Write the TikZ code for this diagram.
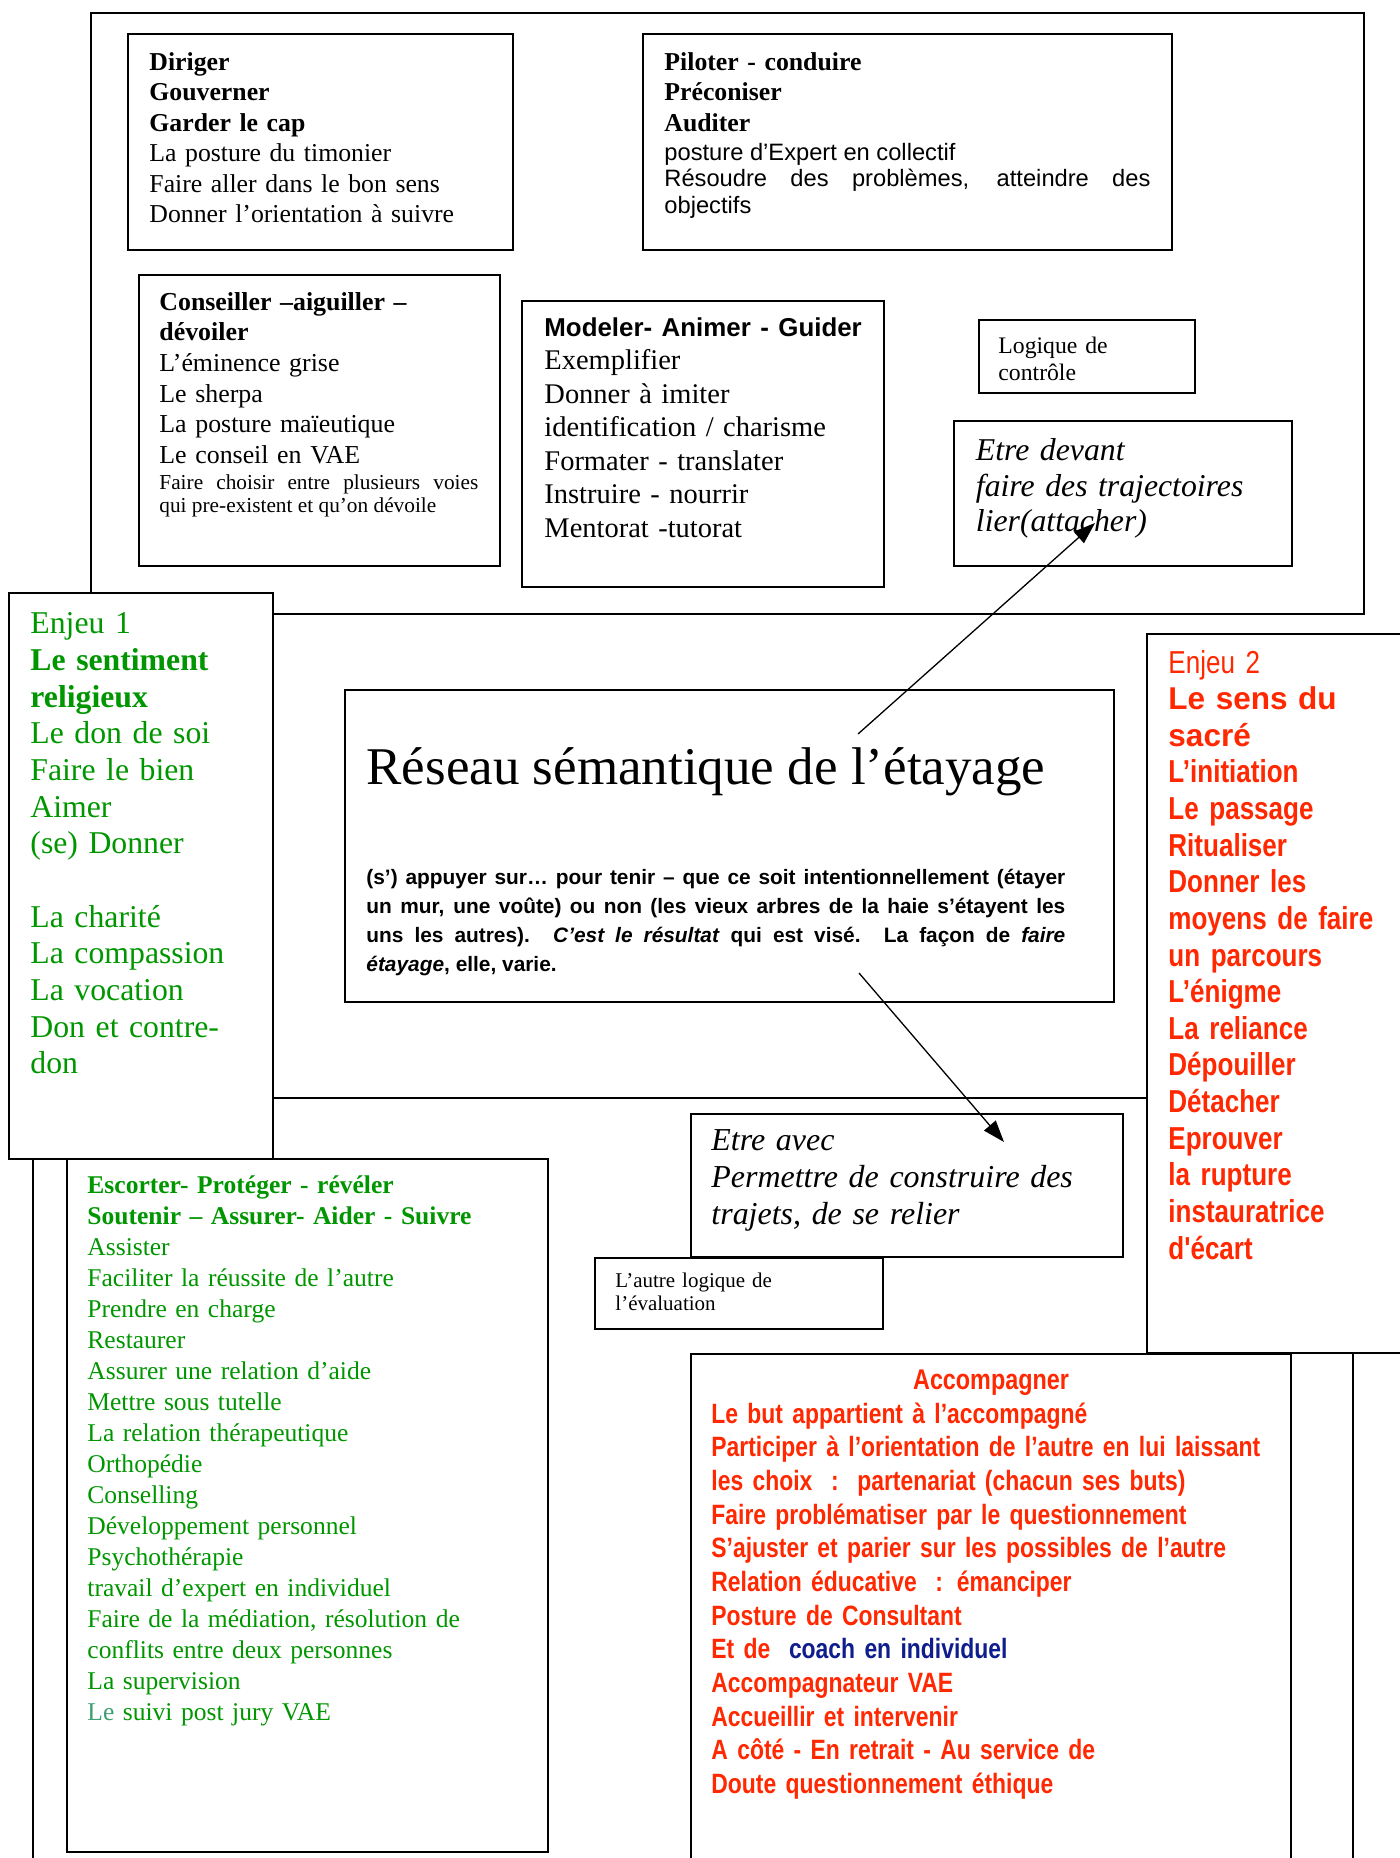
\documentclass[tikz,border=0pt]{standalone}
\usepackage{fontspec}
\setmainfont{Liberation Serif}
\newfontfamily\arialfont{Liberation Sans}
\newfontfamily\narrowfont[FakeStretch=0.82]{Liberation Sans}
\usepackage{xcolor}
\definecolor{enjeugreen}{HTML}{009600}
\definecolor{lightteal}{HTML}{3CA070}
\definecolor{sacredred}{HTML}{FF2800}
\definecolor{coachblue}{HTML}{0F1E8C}
\usetikzlibrary{arrows.meta}
\newcommand{\fsz}[2]{\fontsize{#1}{#2}\selectfont}
\hyphenpenalty=10000

\begin{document}
\begin{tikzpicture}[x=0.46pt, y=-0.46pt,
  frame/.style={draw, line width=0.7pt},
  panel/.style={draw, line width=0.7pt, fill=white},
  txt/.style={anchor=base west, inner sep=0pt, align=left},
  link/.style={-{Triangle[length=10pt, width=7pt]}, line width=0.6pt}
]
\useasboundingbox (0,0) rectangle (1400,1858);
\clip (0,0) rectangle (1400,1858);

% big frames
\draw[frame] (91,13) rectangle (1364,614);
\draw[frame] (33,1098) rectangle (1353,1890);

% top frame
\draw[panel] (128,34) rectangle (513,250);
\node[txt, text width=175pt, font=\fsz{11.85}{14}] (diriger) at (149,70.4)
  {\textbf{Diriger}\\\textbf{Gouverner}\\\textbf{Garder le cap}\\La posture du timonier\\Faire aller dans le bon sens\\Donner l’orientation à suivre};

\draw[panel] (643,34) rectangle (1172,250);
\node[txt, text width=200pt, font=\bfseries\fsz{11.85}{14}] (piloter) at (664,70.4)
  {Piloter - conduire\\Préconiser\\Auditer};
\node[txt, text width=223.6pt, align=justify, font=\arialfont\fsz{10.9}{12.19}] (expert) at (664,160)
  {posture d’Expert en collectif\\Résoudre des problèmes, atteindre des\linebreak objectifs};

\draw[panel] (139,275) rectangle (500,566);
\node[txt, text width=165pt, font=\fsz{11.9}{14.12}] (conseiller) at (159,310)
  {\textbf{Conseiller –aiguiller –}\\\textbf{dévoiler}\\L’éminence grise\\Le sherpa\\La posture maïeutique\\Le conseil en VAE};
\node[txt, text width=146.7pt, align=justify, font=\fsz{9.8}{10.8}] (voies) at (159,489.5)
  {Faire choisir entre plusieurs voies\linebreak qui pre-existent et qu’on dévoile};

\draw[panel] (522,301) rectangle (884,587);
\node[txt, text width=165pt, font=\fsz{13.1}{15.41}] (modeler) at (544,336)
  {{\arialfont\bfseries\fontsize{11.9}{15.41}\selectfont Modeler- Animer - Guider}\\Exemplifier\\Donner à imiter\\identification / charisme\\Formater - translater\\Instruire - nourrir\\Mentorat -tutorat};

\draw[panel] (979,320) rectangle (1195,393);
\node[txt, text width=90pt, font=\fsz{10.9}{12.6}] (controle) at (998,353)
  {Logique de\\contrôle};

\draw[panel] (954,421) rectangle (1292,566);
\node[txt, text width=150pt, font=\itshape\fsz{14.6}{16.38}] (devant) at (975.5,460.6)
  {Etre devant\\faire des trajectoires\\lier(attacher)};

% enjeu 1
\draw[panel] (9,593) rectangle (273,1159);
\node[txt, text width=120pt, text=enjeugreen, font=\fsz{14.6}{16.88}] (enjeu1) at (30,633.6)
  {Enjeu 1\\\textbf{Le sentiment}\\\textbf{religieux}\\Le don de soi\\Faire le bien\\Aimer\\(se) Donner\\\mbox{}\\La charité\\La compassion\\La vocation\\Don et contre-\\don};

% centre
\draw[panel] (345,690) rectangle (1114,1002);
\node[anchor=base west, inner sep=0pt, font=\fsz{24.4}{28}] (titre) at (366,784.7)
  {Réseau sémantique de l’étayage};
\node[txt, text width=321.5pt, align=justify, font=\arialfont\bfseries\fsz{9.6}{13.49}] (appui) at (366,884)
  {(s’) appuyer sur… pour tenir – que ce soit intentionnellement (étayer\linebreak
   un mur, une voûte) ou non (les vieux arbres de la haie s’étayent les\linebreak
   uns les autres). \textit{C’est le résultat} qui est visé. La façon de \textit{faire}\linebreak
   \textit{étayage}, elle, varie.};

% enjeu 2
\draw[panel] (1147,634) rectangle (1420,1353);
\node[txt, text width=115pt, text=sacredred, font=\narrowfont\bfseries\fsz{14.6}{16.85}] (enjeu2) at (1168,673)
  {{\mdseries Enjeu 2}\\{\arialfont\bfseries\fontsize{14.5}{16.85}\selectfont Le sens du\\sacré}\\L’initiation\\Le passage\\Ritualiser\\Donner les\\moyens de faire\\un parcours\\L’énigme\\La reliance\\Dépouiller\\Détacher\\Eprouver\\la rupture\\instauratrice\\d'écart};

% bottom frame
\draw[panel] (691,1114) rectangle (1123,1257);
\node[txt, text width=190pt, font=\itshape\fsz{14.7}{17.1}] (avec) at (711,1150)
  {Etre avec\\Permettre de construire des\\trajets, de se relier};

\draw[panel] (595,1258) rectangle (883,1329);
\node[txt, text width=100pt, font=\fsz{9.65}{10.7}] (evaluation) at (615,1287.7)
  {L’autre logique de\\l’évaluation};

\draw[panel] (67,1159) rectangle (548,1852);
\node[txt, text width=230pt, text=enjeugreen, font=\fsz{11.75}{14.24}] (escorter) at (87,1193.8)
  {\textbf{Escorter- Protéger - révéler}\\\textbf{Soutenir – Assurer- Aider - Suivre}\\Assister\\Faciliter la réussite de l’autre\\Prendre en charge\\Restaurer\\Assurer une relation d’aide\\Mettre sous tutelle\\La relation thérapeutique\\Orthopédie\\Conselling\\Développement personnel\\Psychothérapie\\travail d’expert en individuel\\Faire de la médiation, résolution de\\conflits entre deux personnes\\La supervision\\\textcolor{lightteal}{Le} suivi post jury VAE};

\draw[panel] (691,1354) rectangle (1291,1890);
\node[anchor=base, inner sep=0pt, text=sacredred, font=\narrowfont\bfseries\fsz{13.1}{15.49}] (accompagner) at (991,1389)
  {Accompagner};
\node[txt, text width=265pt, text=sacredred, font=\narrowfont\bfseries\fsz{12.85}{15.49}] (posture) at (711,1423)
  {Le but appartient à l’accompagné\\Participer à l’orientation de l’autre en lui laissant\\les choix\ \ :\ \ partenariat (chacun ses buts)\\Faire problématiser par le questionnement\\S’ajuster et parier sur les possibles de l’autre\\Relation éducative\ \ : émanciper\\Posture de Consultant\\Et de\ \ \textcolor{coachblue}{coach en individuel}\\Accompagnateur VAE\\Accueillir et intervenir\\A côté - En retrait - Au service de\\Doute questionnement éthique};

% arrows
\coordinate (vers-devant) at (858,734);
\coordinate (attacher) at (1095,523);
\coordinate (vers-avec) at (859,973);
\coordinate (avec-tip) at (1004,1142);
\draw[link] (vers-devant) -- (attacher);
\draw[link] (vers-avec) -- (avec-tip);
\end{tikzpicture}
\end{document}
